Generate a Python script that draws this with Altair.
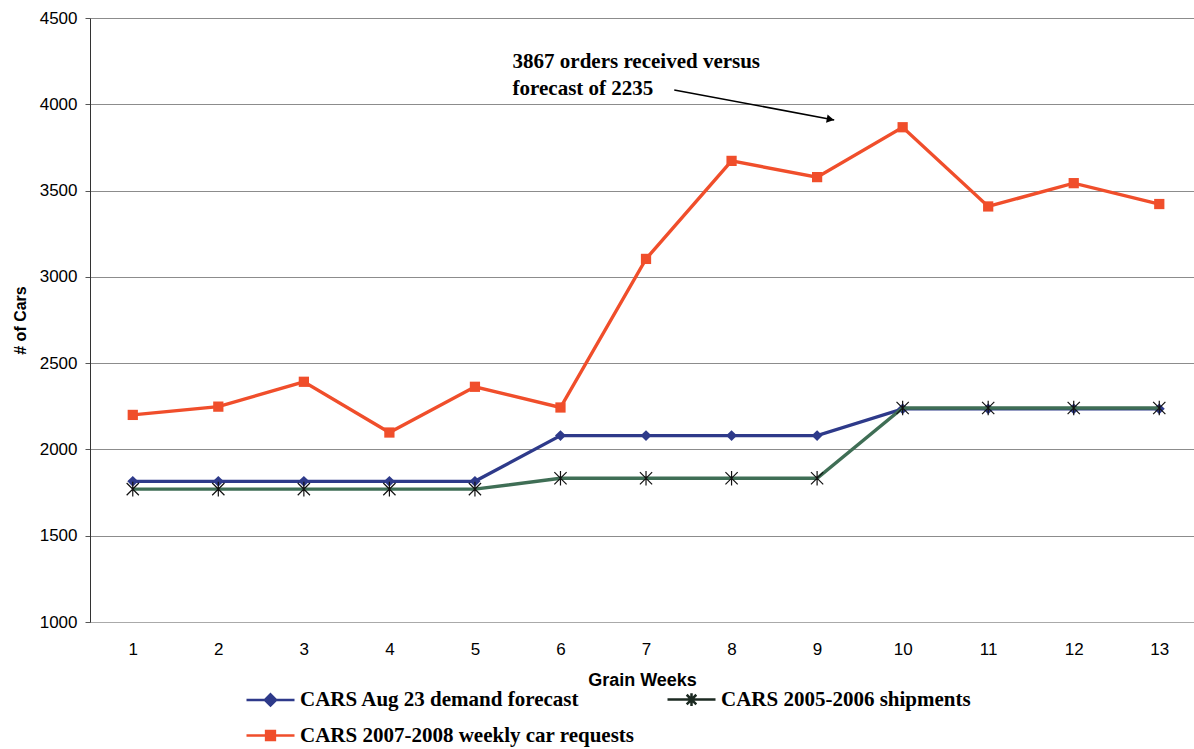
import altair as alt
import pandas as pd

# ---- data ----
weeks = list(range(1, 14))
forecast = [1815, 1815, 1815, 1815, 1815, 2080, 2080, 2080, 2080, 2235, 2235, 2235, 2235]
shipments = [1770, 1770, 1770, 1770, 1770, 1833, 1833, 1833, 1833, 2240, 2240, 2240, 2240]
requests = [2200, 2248, 2392, 2098, 2363, 2243, 3104, 3672, 3578, 3867, 3408, 3543, 3422]

series_names = [
    "CARS Aug 23 demand forecast",
    "CARS 2005-2006 shipments",
    "CARS 2007-2008 weekly car requests",
]
y_ticks = [1000, 1500, 2000, 2500, 3000, 3500, 4000, 4500]

ann_text = ["3867 orders received versus", "forecast of 2235"]
ann_x = [5.44, 5.44]
ann_y = [4210, 4054]
arrow_x = [7.33, 9.20]
arrow_y = [4083, 3909]
head_x = [9.155]
head_y = [3913]

# ---- styles ----
c_blue = "#2E3A8A"
c_green = "#3F6E55"
c_red = "#F04E2B"

rows = []
for name, vals in zip(series_names, [forecast, shipments, requests]):
    for w, v in zip(weeks, vals):
        rows.append({"week": w, "value": v, "series": name})
df = pd.DataFrame(rows)

xs = alt.Scale(domain=[0.5, 13.406], nice=False, zero=False)
ys = alt.Scale(domain=[1000, 4500], nice=False, zero=False)

xax = alt.Axis(values=weeks, grid=False, ticks=False, tickSize=0, labelFont="Liberation Sans",
               labelFontSize=17, labelPadding=19, labelColor="#000", domainColor="#aaaaaa",
               title="Grain Weeks", titleFont="Liberation Sans", titleFontSize=18,
               titleFontWeight="bold", titlePadding=14, titleColor="#000", labelAngle=0)
yax = alt.Axis(values=y_ticks, format="d", grid=True, gridColor="#8c8c8c", domainColor="#333333",
               tickSize=5, tickColor="#555555", labelFont="Liberation Sans", labelFontSize=17,
               labelPadding=8, labelColor="#000", title="# of Cars", titleFont="Liberation Sans",
               titleFontSize=16, titleFontWeight="bold", titlePadding=11, titleColor="#000")


def X(field):
    return alt.X(field, scale=xs, axis=xax)


def Y(field):
    return alt.Y(field, scale=ys, axis=yax)


base = alt.Chart(df)


def enc(ch):
    return ch.encode(x=X("week:Q"), y=Y("value:Q"))


def sel(name):
    return base.transform_filter(alt.datum.series == name)


asterisk = "M-1,-1L1,1M-1,1L1,-1M0,-1.2L0,1.2"

blue_line = enc(sel(series_names[0]).mark_line(color=c_blue, strokeWidth=3.4))
blue_pts = enc(sel(series_names[0]).mark_point(shape="diamond", filled=True, color=c_blue, size=120, opacity=1))
green_line = enc(sel(series_names[1]).mark_line(color=c_green, strokeWidth=3.4))
green_pts = enc(sel(series_names[1]).mark_point(shape=asterisk, filled=False, color="#111111",
                                                 strokeWidth=1.2, size=150, opacity=1))
red_line = enc(sel(series_names[2]).mark_line(color=c_red, strokeWidth=3.4))
red_pts = enc(sel(series_names[2]).mark_point(shape="square", filled=True, color=c_red, size=105, opacity=1))

# legend-only layer (no data drawn)
leg_paths = [
    "M-1,0L5,0M2,-0.7L2.7,0L2,0.7L1.3,0Z",
    "M-1,0L5,0M1.4,-0.6L2.6,0.6M1.4,0.6L2.6,-0.6M2,-0.8L2,0.8",
    "M-1,0L5,0M1.45,-0.55L2.55,-0.55L2.55,0.55L1.45,0.55Z",
]
leg_fill = [c_blue, "#1c2a22", c_red]
leg_stroke = [c_blue, "#1c2a22", c_red]
legend = alt.Legend(orient="none", legendX=154, legendY=671, columns=2, direction="horizontal",
                    title=None, symbolSize=256, symbolStrokeWidth=2.5, labelOffset=35,
                    columnPadding=27, rowPadding=13, padding=0, labelFont="Liberation Serif",
                    labelFontSize=21, labelFontWeight="bold", labelColor="#000", labelLimit=0,
                    symbolOpacity=1)
legend_layer = base.transform_filter("false").mark_point(filled=True, opacity=1).encode(
    x=X("week:Q"),
    y=Y("value:Q"),
    shape=alt.Shape("series:N", scale=alt.Scale(domain=series_names, range=leg_paths), legend=legend),
    fill=alt.Fill("series:N", scale=alt.Scale(domain=series_names, range=leg_fill), legend=legend),
    stroke=alt.Stroke("series:N", scale=alt.Scale(domain=series_names, range=leg_stroke), legend=legend),
)

ann_df = pd.DataFrame({"x": ann_x, "y": ann_y, "t": ann_text})
ann = alt.Chart(ann_df).mark_text(align="left", baseline="alphabetic", font="Liberation Serif",
                                  fontWeight="bold", fontSize=21, color="#000").encode(
    x=X("x:Q"), y=Y("y:Q"), text="t:N")

arr_df = pd.DataFrame({"x": [arrow_x[0]], "y": [arrow_y[0]], "x2": [arrow_x[1]], "y2": [arrow_y[1]]})
arrow = alt.Chart(arr_df).mark_rule(color="#000", strokeWidth=1.6).encode(
    x=X("x:Q"), y=Y("y:Q"), x2="x2:Q", y2="y2:Q")
head_df = pd.DataFrame({"x": head_x, "y": head_y})
head = alt.Chart(head_df).mark_point(shape="triangle-right", filled=True, color="#000", size=70,
                                      angle=10.6, opacity=1).encode(x=X("x:Q"), y=Y("y:Q"))

chart = alt.layer(blue_line, blue_pts, green_line, green_pts, red_line, red_pts,
                  legend_layer, ann, arrow, head).properties(
    width=1104, height=604,
    autosize=alt.AutoSizeParams(type="none"),
    padding={"left": 90, "top": 18, "right": 0, "bottom": 127},
    background="white",
).configure_view(stroke=None)

chart.save("out.html", embed_options={"renderer": "svg", "actions": False})
